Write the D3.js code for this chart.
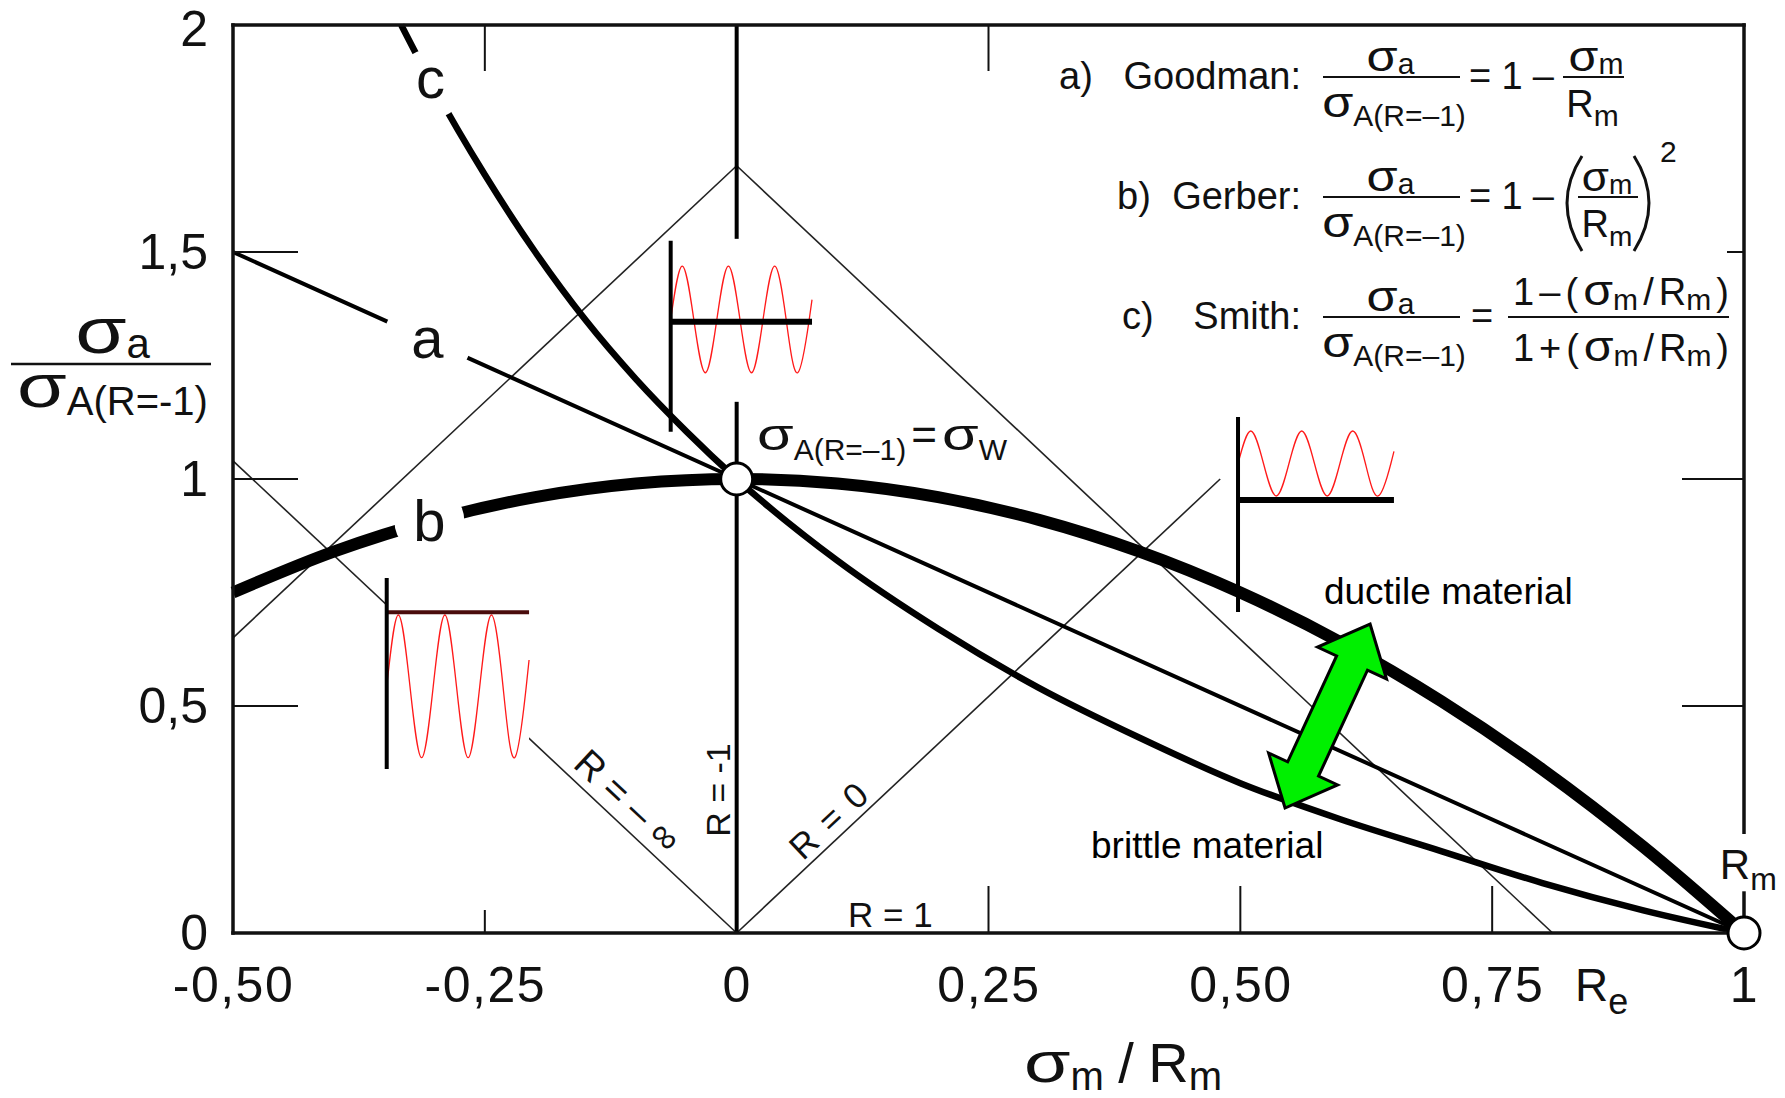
<!DOCTYPE html>
<html>
<head>
<meta charset="utf-8">
<script src="https://cdn.jsdelivr.net/npm/d3@7"></script>
<style>
  body { margin: 0; background: #fff; }
  svg { display: block; font-family: "Liberation Sans", Arial, Helvetica, sans-serif; }
</style>
</head>
<body>
<div id="chart"></div>
<script>
// Haigh-Diagramm: Werte
const xTicks = [-0.5, -0.25, 0, 0.25, 0.5, 0.75, 1];
const xTickLabels = ["-0,50", "-0,25", "0", "0,25", "0,50", "0,75", "1"];
const yTicks = [0, 0.5, 1, 1.5, 2];
const yTickLabels = ["0", "0,5", "1", "1,5", "2"];

// a) Goodman
const goodmanX = [-0.5, 0, 1];
const goodmanY = [1.5, 1.0, 0];
// b) Gerber
const gerberX = [-0.5, -0.4, -0.3, -0.2, -0.1, 0, 0.1, 0.2, 0.3, 0.4, 0.5, 0.6, 0.7, 0.8, 0.9, 1];
const gerberY = [0.75, 0.84, 0.91, 0.96, 0.99, 1, 0.99, 0.96, 0.91, 0.84, 0.75, 0.64, 0.51, 0.36, 0.19, 0];
// c) Smith
const smithX = [-0.333, -0.3, -0.25, -0.2, -0.15, -0.1, -0.05, 0, 0.1, 0.2, 0.3, 0.4, 0.5, 0.6, 0.7, 0.8, 0.9, 1];
const smithY = [2.0, 1.86, 1.67, 1.5, 1.35, 1.22, 1.105, 1.0, 0.82, 0.67, 0.54, 0.43, 0.33, 0.25, 0.18, 0.11, 0.05, 0];

// duenne R-Linien und Fliessgrenze
const rLines = [
  [[0, 0], [-0.5, 1.04]],
  [[0, 0], [0.48, 1.0]],
  [[-0.5, 0.65], [0, 1.69]],
  [[0, 1.69], [0.81, 0]],
];

// Ticks (nach innen)
const leftTicks = [0.5, 1, 1.5];
const rightTicks = [0.5, 1, 1.5];
const topTicks = [-0.25, 0.25];
const bottomTicks = [-0.25, 0.25, 0.5, 0.75];

// Sinus-Symbol (Viertelperioden)
const wavePhase = [0, 0.25, 0.5, 0.75, 1, 1.25, 1.5, 1.75, 2, 2.25, 2.5, 2.75, 3, 3.06];
const waveValue = [0, 1, 0, -1, 0, 1, 0, -1, 0, 1, 0, -1, 0, 0.37];

const W = 1785, H = 1098;
const svg = d3.select("#chart").append("svg").attr("width", W).attr("height", H);

const x = d3.scaleLinear().domain([-0.5, 1]).range([233, 1744]);
const y = d3.scaleLinear().domain([0, 2]).range([933, 25]);

const curveLabels = [
  { t: "a", x: -0.307, y: 1.307, gap: 44, dy: 18 },
  { t: "b", x: -0.305, y: 0.907, gap: 35, dy: 20 },
  { t: "c", x: -0.304, y: 1.87, gap: 35, dy: 14 },
];

const insets = [
  { x0: -0.0655, x1: 0.0748, axis: [1.104, 1.525], base: 1.3465, top: 1.469, bot: 1.234, box: [1.17, 1.529], color: "#000", bw: 6 },
  { x0: 0.4977, x1: 0.6525, axis: [0.707, 1.1366], base: 0.9537, top: 1.1057, bot: 0.9626, box: [0.945, 1.136], color: "#000", bw: 6 },
  { x0: -0.3474, x1: -0.2061, axis: [0.361, 0.782], base: 0.7064, top: 0.7004, bot: 0.3861, box: [0.361, 0.782], color: "#4a0c0c", bw: 4 },
];

// Maske fuer die Luecken an den Kurvenbuchstaben
const defs = svg.append("defs");
const mask = defs.append("mask").attr("id", "gap")
  .attr("maskUnits", "userSpaceOnUse")
  .attr("x", 0).attr("y", 0).attr("width", W).attr("height", H);
mask.append("rect").attr("width", W).attr("height", H).attr("fill", "#fff");
curveLabels.forEach((d) => {
  mask.append("circle").attr("cx", x(d.x)).attr("cy", y(d.y)).attr("r", d.gap).attr("fill", "#000");
});

// duenne Linien
svg.append("g").selectAll("line").data(rLines).enter().append("line")
  .attr("x1", (d) => x(d[0][0])).attr("y1", (d) => y(d[0][1]))
  .attr("x2", (d) => x(d[1][0])).attr("y2", (d) => y(d[1][1]))
  .attr("stroke", "#222").attr("stroke-width", 1.6);

// R = -1 Linie
svg.append("line")
  .attr("x1", x(0)).attr("x2", x(0)).attr("y1", y(2)).attr("y2", y(0))
  .attr("stroke", "#000").attr("stroke-width", 4);

// weisse Hintergruende der Symbole
svg.append("g").selectAll("rect").data(insets).enter().append("rect")
  .attr("x", (d) => x(d.x0)).attr("width", (d) => x(d.x1) - x(d.x0))
  .attr("y", (d) => y(d.box[1])).attr("height", (d) => y(d.box[0]) - y(d.box[1]))
  .attr("fill", "#fff");

// Kurven
const line = d3.line().x((d) => x(d[0])).y((d) => y(d[1])).curve(d3.curveMonotoneX);
const curves = svg.append("g").attr("mask", "url(#gap)").attr("fill", "none").attr("stroke", "#000");
curves.append("path").datum(d3.zip(goodmanX, goodmanY)).attr("d", line).attr("stroke-width", 4);
curves.append("path").datum(d3.zip(smithX, smithY)).attr("d", line).attr("stroke-width", 6.5);
curves.append("path").datum(d3.zip(gerberX, gerberY)).attr("d", line).attr("stroke-width", 12);

// Sinus-Symbole
const ins = svg.append("g");
insets.forEach((d) => {
  const g = ins.append("g");
  const mid = (d.top + d.bot) / 2, amp = (d.top - d.bot) / 2;
  const cyc = (x(d.x1) - x(d.x0)) / 3.06;
  const wave = d3.line()
    .x((p) => x(d.x0) + p[0] * cyc)
    .y((p) => y(mid + p[1] * amp))
    .curve(d3.curveNatural);
  g.append("path").datum(d3.zip(wavePhase, waveValue)).attr("d", wave)
    .attr("fill", "none").attr("stroke", "#ff1a1a").attr("stroke-width", 1.3);
  g.append("line").attr("x1", x(d.x0)).attr("x2", x(d.x1)).attr("y1", y(d.base)).attr("y2", y(d.base))
    .attr("stroke", d.color).attr("stroke-width", d.bw);
  g.append("line").attr("x1", x(d.x0)).attr("x2", x(d.x0)).attr("y1", y(d.axis[0])).attr("y2", y(d.axis[1]))
    .attr("stroke", "#000").attr("stroke-width", 4);
});

// Ticks
const tk = svg.append("g").attr("stroke", "#111").attr("stroke-width", 2);
leftTicks.forEach((v) => tk.append("line").attr("x1", x(-0.5)).attr("x2", x(-0.5) + 65).attr("y1", y(v)).attr("y2", y(v)));
rightTicks.forEach((v) => tk.append("line").attr("x1", x(1)).attr("x2", x(1) - (v === 1.5 ? 17 : 62)).attr("y1", y(v)).attr("y2", y(v)));
topTicks.forEach((v) => tk.append("line").attr("x1", x(v)).attr("x2", x(v)).attr("y1", y(2)).attr("y2", y(2) + 46));
bottomTicks.forEach((v) => tk.append("line").attr("x1", x(v)).attr("x2", x(v)).attr("y1", y(0)).attr("y2", y(0) - (v < 0 ? 23 : 47)));

// Rahmen
const fr = svg.append("g").attr("stroke", "#111").attr("stroke-width", 3.5).attr("stroke-linecap", "square");
fr.append("line").attr("x1", x(-0.5)).attr("x2", x(1)).attr("y1", y(2)).attr("y2", y(2));
fr.append("line").attr("x1", x(-0.5)).attr("x2", x(1)).attr("y1", y(0)).attr("y2", y(0));
fr.append("line").attr("x1", x(-0.5)).attr("x2", x(-0.5)).attr("y1", y(0)).attr("y2", y(2));
fr.append("line").attr("x1", x(1)).attr("x2", x(1)).attr("y1", y(2)).attr("y2", y(0.222));
fr.append("line").attr("x1", x(1)).attr("x2", x(1)).attr("y1", y(0.088)).attr("y2", y(0));

// Achsenbeschriftung
const xAxis = svg.append("g").attr("transform", `translate(0,${y(0)})`)
  .call(d3.axisBottom(x).tickValues(xTicks).tickFormat((d, i) => xTickLabels[i]).tickSize(0).tickPadding(33));
xAxis.select(".domain").remove();
xAxis.attr("font-size", 50).attr("font-family", null);
xAxis.selectAll("text").attr("fill", "#111").attr("letter-spacing", 1.5);

const yAxis = svg.append("g").attr("transform", `translate(${x(-0.5)},0)`)
  .call(d3.axisLeft(y).tickValues(yTicks).tickFormat((d, i) => yTickLabels[i]).tickSize(0).tickPadding(25));
yAxis.select(".domain").remove();
yAxis.attr("font-size", 50).attr("font-family", null);
yAxis.selectAll("text").attr("fill", "#111");
yAxis.selectAll(".tick").filter((d) => d === 2).select("text").attr("dy", "0.4em");

// Kreise
svg.append("g").selectAll("circle").data([[0, 1], [1, 0]]).enter().append("circle")
  .attr("cx", (d) => x(d[0])).attr("cy", (d) => y(d[1])).attr("r", 16)
  .attr("fill", "#fff").attr("stroke", "#000").attr("stroke-width", 3);

// gruener Doppelpfeil
const arrowEnds = [[0.5444, 0.2753], [0.6288, 0.6806]];
(function () {
  const p0 = [x(arrowEnds[0][0]), y(arrowEnds[0][1])];
  const p1 = [x(arrowEnds[1][0]), y(arrowEnds[1][1])];
  const L = Math.hypot(p1[0] - p0[0], p1[1] - p0[1]);
  const u = [(p1[0] - p0[0]) / L, (p1[1] - p0[1]) / L];
  const n = [-u[1], u[0]];
  const hl = 43, hh = 38, sh = 17;
  const pt = (b, a, s) => [b[0] + u[0] * a + n[0] * s, b[1] + u[1] * a + n[1] * s];
  const poly = [
    p1, pt(p1, -hl, hh), pt(p1, -hl, sh), pt(p0, hl, sh), pt(p0, hl, hh),
    p0, pt(p0, hl, -hh), pt(p0, hl, -sh), pt(p1, -hl, -sh), pt(p1, -hl, -hh),
  ];
  svg.append("polygon").attr("points", poly.map((p) => p.join(",")).join(" "))
    .attr("fill", "#00f000").attr("stroke", "#000").attr("stroke-width", 3).attr("stroke-linejoin", "miter");
})();

// Hilfsfunktion: Formeltext aus Teilen
function mathRow(parent, parts, x0, x1, baseline) {
  const g = parent.append("g").attr("fill", "#111");
  const nodes = parts.map((p) => {
    const t = g.append("text").attr("font-size", p.s).text(p.t);
    const w = t.node().getComputedTextLength() * (p.sx || 1);
    return { t, w, p };
  });
  const natural = d3.sum(nodes, (d) => d.w);
  const nGap = nodes.filter((d, i) => i > 0 && !d.p.tight).length;
  let gap = 0, cx = x0;
  if (x1 != null) {
    if (nGap > 0) gap = (x1 - x0 - natural) / nGap;
    else cx = (x0 + x1 - natural) / 2;
  }
  nodes.forEach((d, i) => {
    if (i > 0 && !d.p.tight) cx += gap;
    d.t.attr("transform", `translate(${cx},${baseline + (d.p.dy || 0)}) scale(${d.p.sx || 1},1)`);
    cx += d.w;
  });
}
const S = "\u03c3";

// Kurvenbuchstaben
svg.append("g").selectAll("text").data(curveLabels).enter().append("text")
  .attr("x", (d) => x(d.x)).attr("y", (d) => y(d.y) + d.dy)
  .attr("text-anchor", "middle").attr("font-size", 58).attr("fill", "#111")
  .text((d) => d.t);

// Achsentitel
const ann = svg.append("g");
mathRow(ann, [{ t: S, s: 64, sx: 1.3 }, { t: "a", s: 42, dy: 5, tight: true }], 77, 148, 353);
ann.append("line").attr("x1", 11).attr("x2", 211).attr("y1", 364).attr("y2", 364).attr("stroke", "#111").attr("stroke-width", 2.5);
mathRow(ann, [{ t: S, s: 62, sx: 1.3 }, { t: "A(R=-1)", s: 40, dy: 8, tight: true }], 11, 214, 407);
mathRow(ann, [{ t: S, s: 58, sx: 1.3 }, { t: "m", s: 40, dy: 8, tight: true }, { t: "/", s: 56 }, { t: "R", s: 56 }, { t: "m", s: 40, dy: 8, tight: true }], 1024, 1222, 1082);

// Beschriftungen im Diagramm
mathRow(ann, [{ t: S, s: 44, sx: 1.35 }, { t: "A(R=\u20131)", s: 30, dy: 10, tight: true }, { t: "=", s: 44 }, { t: S, s: 44, sx: 1.35 }, { t: "W", s: 30, dy: 10, tight: true }], x(0.0202), x(0.0202) + 250, y(1.064));
mathRow(ann, [{ t: "R", s: 42 }, { t: "m", s: 32, dy: 11, tight: true }], x(0.977), x(0.977) + 55, y(0.119));
mathRow(ann, [{ t: "R", s: 46 }, { t: "e", s: 36, dy: 13, tight: true }], x(0.8343), x(0.8343) + 49, 1001);

ann.append("text").attr("x", x(0.1105)).attr("y", y(0.013)).attr("font-size", 35).attr("fill", "#111").text("R = 1");
ann.append("text").attr("transform", `translate(${x(-0.0185)},${y(0.315)}) rotate(-90)`)
  .attr("text-anchor", "middle").attr("dominant-baseline", "central").attr("font-size", 34).attr("fill", "#111").text("R = -1");
ann.append("text").attr("transform", `translate(${x(0.0917)},${y(0.249)}) rotate(-43.2)`)
  .attr("text-anchor", "middle").attr("dominant-baseline", "central").attr("font-size", 35).attr("letter-spacing", 2).attr("fill", "#111").text("R = 0");
ann.append("text").attr("transform", `translate(${x(-0.1079)},${y(0.291)}) rotate(43.2)`)
  .attr("text-anchor", "middle").attr("dominant-baseline", "central").attr("font-size", 38).attr("fill", "#111").text("R = \u2013 \u221e");

ann.append("text").attr("x", x(0.583)).attr("y", y(0.7247)).attr("font-size", 37).attr("fill", "#000").text("ductile material");
ann.append("text").attr("x", x(0.3518)).attr("y", y(0.165)).attr("font-size", 37).attr("fill", "#000").text("brittle material");

// Formeln
const leg = svg.append("g");
const bars = [77, 197, 317];
const names = [["a)", 1059, "Goodman:"], ["b)", 1117, "Gerber:"], ["c)", 1122, "Smith:"]];
bars.forEach((b, i) => {
  leg.append("text").attr("x", names[i][1]).attr("y", b + 12).attr("font-size", 38).attr("fill", "#111").text(names[i][0]);
  leg.append("text").attr("x", 1301).attr("y", b + 12).attr("text-anchor", "end").attr("font-size", 38).attr("fill", "#111").text(names[i][2]);
  mathRow(leg, [{ t: S, s: 42, sx: 1.2 }, { t: "a", s: 30, dy: 3, tight: true }], 1369, 1412, b - 6);
  leg.append("line").attr("x1", 1323).attr("x2", 1460).attr("y1", b).attr("y2", b).attr("stroke", "#111").attr("stroke-width", 2);
  mathRow(leg, [{ t: S, s: 42, sx: 1.2 }, { t: "A(R=\u20131)", s: 30, dy: 9, tight: true }], 1325, 1463, b + 40);
});
// a)
mathRow(leg, [{ t: "=", s: 38 }, { t: "1", s: 38 }, { t: "\u2013", s: 38 }], 1469, 1554, bars[0] + 12);
mathRow(leg, [{ t: S, s: 42, sx: 1.15 }, { t: "m", s: 30, dy: 3, tight: true }], 1570, 1622, bars[0] - 6);
leg.append("line").attr("x1", 1563).attr("x2", 1624).attr("y1", bars[0]).attr("y2", bars[0]).attr("stroke", "#111").attr("stroke-width", 2);
mathRow(leg, [{ t: "R", s: 38 }, { t: "m", s: 30, dy: 9, tight: true }], 1565, 1620, bars[0] + 40);
// b)
mathRow(leg, [{ t: "=", s: 38 }, { t: "1", s: 38 }, { t: "\u2013", s: 38 }], 1469, 1554, bars[1] + 12);
leg.append("path").attr("d", "M1582,156 Q1552,203 1582,251").attr("fill", "none").attr("stroke", "#111").attr("stroke-width", 3);
leg.append("path").attr("d", "M1634,156 Q1664,203 1634,251").attr("fill", "none").attr("stroke", "#111").attr("stroke-width", 3);
mathRow(leg, [{ t: S, s: 40, sx: 1.1 }, { t: "m", s: 28, dy: 3, tight: true }], 1582, 1632, bars[1] - 6);
leg.append("line").attr("x1", 1578).attr("x2", 1638).attr("y1", bars[1]).attr("y2", bars[1]).attr("stroke", "#111").attr("stroke-width", 2);
mathRow(leg, [{ t: "R", s: 38 }, { t: "m", s: 28, dy: 9, tight: true }], 1582, 1632, bars[1] + 40);
leg.append("text").attr("x", 1660).attr("y", 162).attr("font-size", 30).attr("fill", "#111").text("2");
// c)
leg.append("text").attr("x", 1471).attr("y", bars[2] + 12).attr("font-size", 38).attr("fill", "#111").text("=");
leg.append("line").attr("x1", 1508).attr("x2", 1729).attr("y1", bars[2]).attr("y2", bars[2]).attr("stroke", "#111").attr("stroke-width", 2);
const frac = (op) => [
  { t: "1", s: 38 }, { t: op, s: 38 }, { t: "(", s: 38 }, { t: S, s: 42, sx: 1.15 }, { t: "m", s: 30, dy: 5, tight: true },
  { t: "/", s: 38 }, { t: "R", s: 38 }, { t: "m", s: 30, dy: 5, tight: true }, { t: ")", s: 38 },
];
mathRow(leg, frac("\u2013"), 1513, 1729, bars[2] - 12);
mathRow(leg, frac("+"), 1513, 1729, bars[2] + 44);
</script>
</body>
</html>
